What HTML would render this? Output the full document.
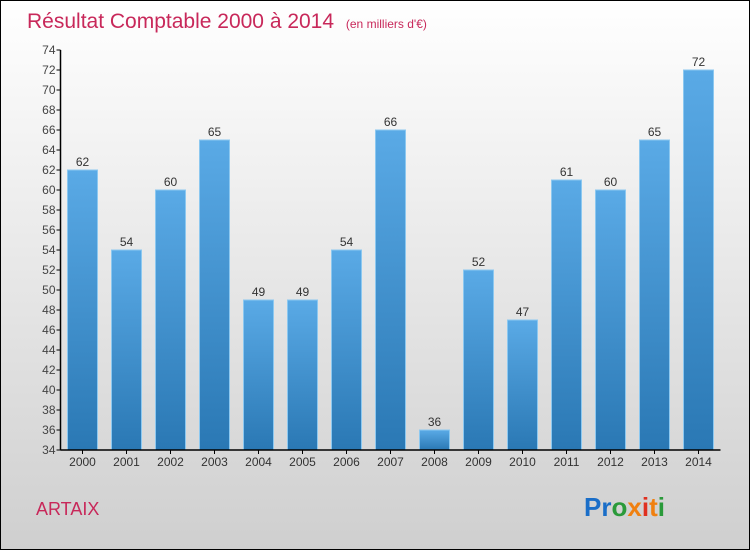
<!DOCTYPE html>
<html><head><meta charset="utf-8"><style>
html,body{margin:0;padding:0}
body{width:750px;height:550px;overflow:hidden;font-family:"Liberation Sans",sans-serif}
</style></head><body>
<svg width="750" height="550">
<defs>
<linearGradient id="bg" x1="0" y1="0" x2="0" y2="1"><stop offset="0" stop-color="#ffffff"/><stop offset="1" stop-color="#cfcfcf"/></linearGradient>
<linearGradient id="bar" x1="0" y1="0" x2="0" y2="1"><stop offset="0" stop-color="#5aaae6"/><stop offset="1" stop-color="#2a78b4"/></linearGradient>
</defs>
<rect x="0.5" y="0.5" width="749" height="549" fill="url(#bg)" stroke="#000"/>
<text x="27" y="28" font-size="21" fill="#c8285a">Résultat Comptable 2000 à 2014 <tspan font-size="12" dx="6">(en milliers d'€)</tspan></text>
<g id="plot"></g>
<text x="36" y="515" font-size="18" fill="#c8285a">ARTAIX</text>
<text x="584" y="516" font-size="26" font-weight="bold"><tspan fill="#1a6ec8">Pr</tspan><tspan fill="#2a9a3a">o</tspan><tspan fill="#f08010">x</tspan><tspan fill="#e03020">i</tspan><tspan fill="#f08010">t</tspan><tspan fill="#2a9a3a">i</tspan></text>
</svg>
<script>
const categories=["2000","2001","2002","2003","2004","2005","2006","2007","2008","2009","2010","2011","2012","2013","2014"];
const values=[62,54,60,65,49,49,54,66,36,52,47,61,60,65,72];
const yTicks=[34,36,38,40,42,44,46,48,50,52,54,56,58,60,62,64,66,68,70,72,74];
const NS="http://www.w3.org/2000/svg";
const plotG=document.getElementById('plot');
const x0=60.5,step=44,yMin=34,yMax=74,plotTop=50,plotBot=450;
const yScale=v=>plotBot-(v-yMin)/(yMax-yMin)*(plotBot-plotTop);
const xc=i=>x0+step*(i+0.5);
function mk(t,a){const e=document.createElementNS(NS,t);for(const k in a)e.setAttribute(k,a[k]);plotG.appendChild(e);return e;}
values.forEach((v,i)=>{
 const r=mk('rect',{x:xc(i)-15,y:yScale(v),width:30,height:plotBot-yScale(v),fill:'url(#bar)',stroke:'#8cc8f0','stroke-width':1});
 
 
 const t=mk('text',{x:xc(i),y:yScale(v)-4,'font-size':12,fill:'#333','text-anchor':'middle'});t.textContent=v;
 
 
 const tk=mk('line',{x1:xc(i),x2:xc(i),y1:plotBot,y2:plotBot+4,stroke:'#000'});
 
 
 const l=mk('text',{x:xc(i),y:plotBot+16,'font-size':12,fill:'#333','text-anchor':'middle'});l.textContent=categories[i];
 
 
});
yTicks.forEach(v=>{
 const tk=mk('line',{x1:x0-4,x2:x0,y1:yScale(v),y2:yScale(v),stroke:'#000'});
 
 
 const l=mk('text',{x:x0-5,y:yScale(v)+4,'font-size':12,fill:'#444','text-anchor':'end'});l.textContent=v;
 
 
});
const ya=mk('line',{x1:x0,x2:x0,y1:plotTop,y2:plotBot,stroke:'#000','stroke-width':1.5});


const xa=mk('line',{x1:x0,x2:x0+step*categories.length,y1:plotBot,y2:plotBot,stroke:'#000','stroke-width':1.5});


</script>
</body></html>
